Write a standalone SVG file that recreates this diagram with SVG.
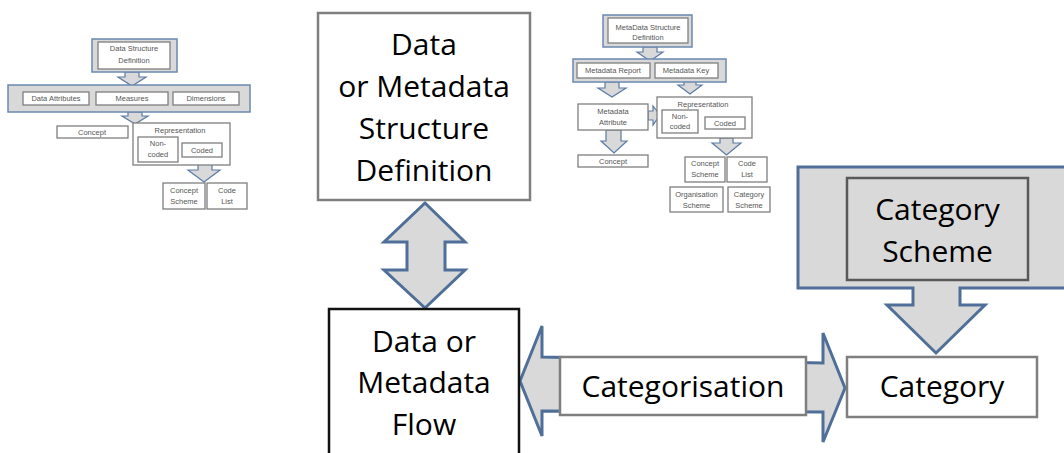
<svg xmlns="http://www.w3.org/2000/svg" width="1064" height="453" viewBox="0 0 1064 453">
<style>
.arr{fill:#d9d9d9;stroke:#4f6f99;stroke-width:3;stroke-linejoin:miter}
.marr{fill:#d9d9d9;stroke:#5b7ba6;stroke-width:1.2}
.frame{fill:#d9d9d9;stroke:#6a88b0;stroke-width:1.5}
.mb{fill:#fff;stroke:#7f7f7f;stroke-width:1.3}
.mt{font-family:"Liberation Sans",Arial,sans-serif;font-size:7.5px;fill:#555;text-anchor:middle}
.t{font-family:"Open Sans",sans-serif;font-size:30px;fill:#000;text-anchor:middle}
</style>
<rect width="1064" height="453" fill="#fff"/>

<g id="connectors">
  <polygon class="arr" points="425,203 465,242 445,242 445,270 465,270 425,308 384,270 407,270 407,242 384,242"/>
  <polygon class="arr" points="520,381 542,326 542,357 823,363 823,333 845,388 823,442 823,412 542,411 542,436"/>
  <!-- mini connectors left -->
  <polygon class="marr" points="125,72 139,72 139,77 146,77 132,86 118,77 125,77"/>
  <polygon class="marr" points="128,112 142,112 142,116 148,116 135,124 122,116 128,116"/>
  <polygon class="marr" points="198,157 212,157 212,170 220,170 204,182 188,170 198,170"/>
  <!-- mini connectors right -->
  <polygon class="marr" points="643,47 657,47 657,52 663,52 650,61 637,52 643,52"/>
  <polygon class="marr" points="605,82 619,82 619,88 626,88 612,97 598,88 605,88"/>
  <polygon class="marr" points="684,80 696,80 696,85 702,85 690,94 678,85 684,85"/>
  <polygon class="marr" points="648,111 653,111 653,106 660,115 653,125 653,120 648,120"/>
  <polygon class="marr" points="606,130 621,130 621,141 627,141 614,153 601,141 606,141"/>
  <polygon class="marr" points="720,138 733,138 733,143 741,143 726.5,155 712,143 720,143"/>
</g>

<g id="dsd-mini">
  <rect class="frame" x="92" y="39" width="85" height="33"/>
  <rect class="mb" x="98" y="42" width="72" height="27"/>
  <text class="mt" x="134" y="51">Data Structure</text>
  <text class="mt" x="134" y="63">Definition</text>
  <rect class="frame" x="8" y="85" width="242" height="27"/>
  <rect class="mb" x="23" y="92" width="66" height="13"/>
  <text class="mt" x="56" y="101">Data Attributes</text>
  <rect class="mb" x="96" y="92" width="72" height="13"/>
  <text class="mt" x="132" y="101">Measures</text>
  <rect class="mb" x="173" y="92" width="66" height="13"/>
  <text class="mt" x="206" y="101">Dimensions</text>
  <rect class="mb" x="57" y="126" width="71" height="12"/>
  <text class="mt" x="92" y="135">Concept</text>
  <rect class="mb" x="133" y="123" width="97" height="42"/>
  <text class="mt" x="180" y="133">Representation</text>
  <rect class="mb" x="138" y="137" width="40" height="25"/>
  <text class="mt" x="158" y="146">Non-</text>
  <text class="mt" x="158" y="157">coded</text>
  <rect class="mb" x="182" y="143" width="40" height="14"/>
  <text class="mt" x="202" y="153">Coded</text>
  <rect class="mb" x="163" y="183" width="42" height="26"/>
  <text class="mt" x="184" y="193">Concept</text>
  <text class="mt" x="184" y="204">Scheme</text>
  <rect class="mb" x="207" y="183" width="40" height="26"/>
  <text class="mt" x="227" y="193">Code</text>
  <text class="mt" x="227" y="204">List</text>
</g>

<g id="mdsd-mini">
  <rect class="frame" x="603" y="15" width="89" height="32"/>
  <rect class="mb" x="608" y="18" width="80" height="25"/>
  <text class="mt" x="648" y="30">MetaData Structure</text>
  <text class="mt" x="648" y="40">Definition</text>
  <rect class="frame" x="573" y="59" width="153" height="23"/>
  <rect class="mb" x="577" y="63" width="73" height="15"/>
  <text class="mt" x="613" y="73">Metadata Report</text>
  <rect class="mb" x="655" y="63" width="63" height="15"/>
  <text class="mt" x="686" y="73">Metadata Key</text>
  <rect class="mb" x="578" y="104" width="70" height="26"/>
  <text class="mt" x="613" y="114">Metadata</text>
  <text class="mt" x="613" y="125">Attribute</text>
  <rect class="mb" x="657" y="97" width="95" height="41"/>
  <text class="mt" x="703" y="107">Representation</text>
  <rect class="mb" x="662" y="110" width="36" height="23"/>
  <text class="mt" x="680" y="119">Non-</text>
  <text class="mt" x="680" y="129">coded</text>
  <rect class="mb" x="705" y="117" width="40" height="12"/>
  <text class="mt" x="725" y="126">Coded</text>
  <rect class="mb" x="578" y="155" width="70" height="12"/>
  <text class="mt" x="613" y="164">Concept</text>
  <rect class="mb" x="685" y="157" width="40" height="25"/>
  <text class="mt" x="705" y="166">Concept</text>
  <text class="mt" x="705" y="177">Scheme</text>
  <rect class="mb" x="727" y="157" width="40" height="25"/>
  <text class="mt" x="747" y="166">Code</text>
  <text class="mt" x="747" y="177">List</text>
  <rect class="mb" x="670" y="187" width="53" height="25"/>
  <text class="mt" x="696.5" y="197">Organisation</text>
  <text class="mt" x="696.5" y="208">Scheme</text>
  <rect class="mb" x="728" y="187" width="42" height="25"/>
  <text class="mt" x="749" y="197">Category</text>
  <text class="mt" x="749" y="208">Scheme</text>
</g>

<g id="dsd">
  <rect x="318" y="13" width="212" height="187" fill="#fff" stroke="#7f7f7f" stroke-width="2.5"/>
  <text class="t" x="424" y="55">Data</text>
  <text class="t" x="424" y="97">or Metadata</text>
  <text class="t" x="424" y="139">Structure</text>
  <text class="t" x="424" y="181">Definition</text>
</g>

<g id="flow">
  <rect x="329" y="309" width="190" height="150" fill="#fff" stroke="#111" stroke-width="2.5"/>
  <text class="t" x="424" y="352">Data or</text>
  <text class="t" x="424" y="393">Metadata</text>
  <text class="t" x="424" y="435">Flow</text>
</g>

<g id="categorisation">
  <rect x="560" y="357" width="246" height="58" fill="#fff" stroke="#7f7f7f" stroke-width="2.5"/>
  <text class="t" x="683" y="397">Categorisation</text>
</g>

<g id="category">
  <rect x="847" y="357" width="190" height="60" fill="#fff" stroke="#7f7f7f" stroke-width="2.5"/>
  <text class="t" x="942" y="397">Category</text>
</g>

<g id="category-scheme">
  <path class="arr" d="M798,167 L1070,167 L1070,288 L960,288 L960,305 L985,305 L936,353 L887,305 L913,305 L913,288 L798,288 Z"/>
  <rect x="847" y="178" width="181" height="102" fill="#d9d9d9" stroke="#595959" stroke-width="2.5"/>
  <text class="t" x="937.5" y="220">Category</text>
  <text class="t" x="937.5" y="262">Scheme</text>
</g>
</svg>
